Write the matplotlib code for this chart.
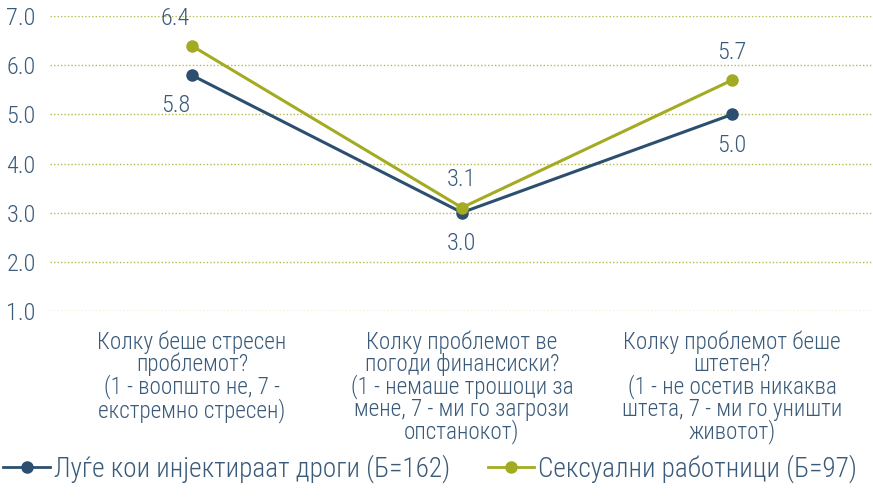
import matplotlib.pyplot as plt
from matplotlib import font_manager
from matplotlib.lines import Line2D

# Survey questions and mean scores per group
questions = ['Колку беше стресен\nпроблемот?',
             'Колку проблемот ве\nпогоди финансиски?',
             'Колку проблемот беше\nштетен?']
scales = ['(1 - воопшто не, 7 -\nекстремно стресен)',
          '(1 - немаше трошоци за\nмене, 7 - ми го загрози\nопстанокот)',
          '(1 - не осетив никаква\nштета, 7 - ми го уништи\nживотот)']
pwid = [5.8, 3.0, 5.0]
sex_workers = [6.4, 3.1, 5.7]
series_names = ['Луѓе кои инјектираат дроги (Б=162)',
                'Сексуални работници (Б=97)']
yticks = [1.0, 2.0, 3.0, 4.0, 5.0, 6.0, 7.0]

navy = '#2c4f70'
olive = '#a3ab22'
text_c = '#3a5a7a'

# prefer a narrow face if one is around
names = {f.name for f in font_manager.fontManager.ttflist}
narrow = [n for n in ['Liberation Sans Narrow', 'Roboto Condensed',
                      'Open Sans Condensed', 'DejaVu Sans Condensed'] if n in names]
face = narrow[0] if narrow else 'Roboto'
plt.rcParams['font.family'] = [face, 'DejaVu Sans']
plt.rcParams['font.weight'] = 'light'
shrink = 1.0 if narrow else 0.86

fig = plt.figure(figsize=(8.73, 4.97), dpi=100)
ax = fig.add_axes([0.057, 0.374, 0.943, 0.594])
x = list(range(len(questions)))

ax.plot(x, pwid, color=navy, lw=2.2, marker='o', ms=8, zorder=3)
ax.plot(x, sex_workers, color=olive, lw=2.2, marker='o', ms=8, zorder=3)

# value labels: olive above, navy below
for i in x:
    dx = -0.06 if i == 0 else 0
    ax.annotate(f'{sex_workers[i]:.1f}', (i + dx, sex_workers[i]), xytext=(0, 20),
                textcoords='offset points', ha='center', va='center',
                fontsize=17.5 * shrink, color=text_c)
    ax.annotate(f'{pwid[i]:.1f}', (i + dx, pwid[i]), xytext=(0, -22),
                textcoords='offset points', ha='center', va='center',
                fontsize=17.5 * shrink, color=text_c)

ax.set_xlim(-0.526, 2.522)
ax.set_ylim(0.99, 7.01)
ax.set_yticks(yticks)
ax.set_yticklabels([f'{v:.1f}' for v in yticks], fontsize=17.5 * shrink, color=text_c)
ax.set_xticks([])
ax.tick_params(axis='y', length=0, pad=10)
ax.grid(axis='y', color=olive, ls=(0, (1, 1.5)), lw=1, alpha=0.8)
for s in ax.spines.values():
    s.set_visible(False)

# category labels under the plot
trans = ax.get_xaxis_transform()
for i in x:
    ax.text(i, -0.065, questions[i] + '\n' + scales[i], transform=trans,
            ha='center', va='top', fontsize=16.7 * shrink, color=text_c,
            linespacing=0.93)

handles = [Line2D([], [], color=navy, lw=2, marker='o', ms=8),
           Line2D([], [], color=olive, lw=2, marker='o', ms=8)]
fig.legend(handles, series_names, loc='lower center', bbox_to_anchor=(0.493, -0.01),
           ncol=2, frameon=False, fontsize=19.6 * shrink, labelcolor=text_c,
           handlelength=1.7, handletextpad=0.15, columnspacing=1.4,
           borderaxespad=0.3)

fig.savefig('out.png', dpi=100)
